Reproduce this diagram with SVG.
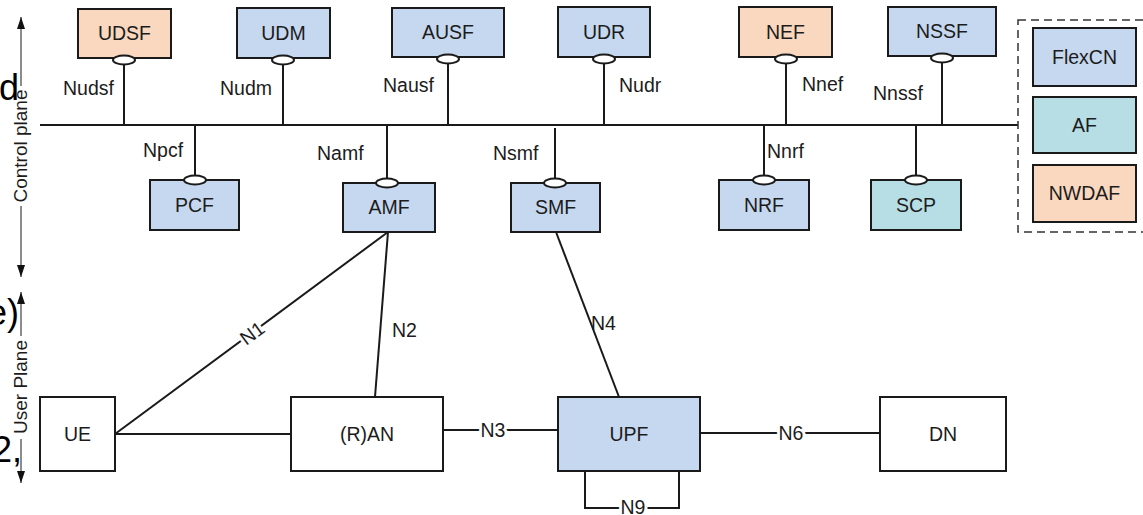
<svg xmlns="http://www.w3.org/2000/svg" width="1143" height="515" viewBox="0 0 1143 515">
<defs>
<marker id="arr" viewBox="0 0 12 8" refX="12" refY="4" markerWidth="12" markerHeight="8" orient="auto-start-reverse" markerUnits="userSpaceOnUse"><path d="M0,0 L12,4 L0,8 z" fill="#111"/></marker>
<style>
text{font-family:"Liberation Sans",Arial,sans-serif;fill:#1c1c1c;font-size:19.5px}
.box{stroke:#1a1a1a;stroke-width:2}
.blue{fill:#c6d8ef}.peach{fill:#f9d8bf}.teal{fill:#b7dee5}.white{fill:#fff}
.c{text-anchor:middle}
.ln{stroke:#1a1a1a;stroke-width:2;fill:none}
.ell{fill:#fff;stroke:#1a1a1a;stroke-width:2}
.bg{stroke:#fff;stroke-width:6;paint-order:stroke;stroke-linejoin:round}
.ax{stroke:#666;stroke-width:1.5;fill:none}
.big{font-size:36px;fill:#000}
.rot{font-size:19px}
</style>
</defs>
<rect width="1143" height="515" fill="#fff"/>

<!-- cut-off fragments at left edge -->
<text class="big" x="-1" y="100">d</text>
<text class="big" x="19" y="325" text-anchor="end">e)</text>
<text class="big" x="22" y="462" text-anchor="end">2,</text>

<!-- plane axes -->
<g id="axes">
<line class="ax" x1="21" y1="86" x2="21" y2="17" marker-end="url(#arr)"/>
<line class="ax" x1="21" y1="206" x2="21" y2="277" marker-end="url(#arr)"/>
<text class="rot c" transform="translate(27,146) rotate(-90)">Control plane</text>
<line class="ax" x1="21" y1="336" x2="21" y2="292" marker-end="url(#arr)"/>
<line class="ax" x1="21" y1="439" x2="21" y2="483" marker-end="url(#arr)"/>
<text class="rot c" transform="translate(27,387) rotate(-90)">User Plane</text>
</g>

<g id="connectors">
<line class="ln" x1="40" y1="125" x2="1018" y2="125"/>
<line class="ln" x1="124" y1="62" x2="124" y2="125"/>
<line class="ln" x1="283" y1="62" x2="283" y2="125"/>
<line class="ln" x1="448" y1="61" x2="448" y2="125"/>
<line class="ln" x1="604" y1="61" x2="604" y2="125"/>
<line class="ln" x1="786" y1="61" x2="786" y2="125"/>
<line class="ln" x1="942" y1="60" x2="942" y2="125"/>
<line class="ln" x1="195" y1="125" x2="195" y2="176"/>
<line class="ln" x1="387" y1="125" x2="387" y2="179"/>
<line class="ln" x1="555" y1="128" x2="555" y2="179"/>
<line class="ln" x1="764" y1="125" x2="764" y2="176"/>
<line class="ln" x1="916" y1="125" x2="916" y2="176"/>
<!-- user plane links -->
<line class="ln" x1="115" y1="434" x2="388" y2="232"/>
<line class="ln" x1="115" y1="434" x2="291" y2="434"/>
<line class="ln" x1="388" y1="232" x2="375" y2="397"/>
<line class="ln" x1="556" y1="232" x2="619" y2="397"/>
<line class="ln" x1="443" y1="430" x2="558" y2="430"/>
<line class="ln" x1="700" y1="433" x2="880" y2="433"/>
<polyline class="ln" points="585,471 585,508 679,508 679,471"/>
<!-- labels -->
<text x="63" y="95">Nudsf</text>
<text x="220" y="95">Nudm</text>
<text x="383" y="92">Nausf</text>
<text x="619" y="92">Nudr</text>
<text x="802" y="91">Nnef</text>
<text x="873" y="100">Nnssf</text>
<text x="143" y="157">Npcf</text>
<text x="317" y="160">Namf</text>
<text x="493" y="160">Nsmf</text>
<text x="767" y="158">Nnrf</text>
<text class="c bg" transform="translate(252,333) rotate(-36.5)" y="7">N1</text>
<text x="392" y="337">N2</text>
<text class="c bg" x="493" y="437">N3</text>
<text x="591" y="330">N4</text>
<text class="c bg" x="791" y="440">N6</text>
<text class="c bg" x="633" y="514">N9</text>
</g>

<g id="UDSF"><rect class="box peach" x="78" y="9" width="93" height="49"/><text class="c" x="124.5" y="40">UDSF</text><ellipse class="ell" cx="124" cy="60" rx="11" ry="4.5"/></g>
<g id="UDM"><rect class="box blue" x="237" y="8" width="93" height="50"/><text class="c" x="283.5" y="40">UDM</text><ellipse class="ell" cx="283" cy="60" rx="11" ry="4.5"/></g>
<g id="AUSF"><rect class="box blue" x="392" y="8" width="112" height="49"/><text class="c" x="448" y="39">AUSF</text><ellipse class="ell" cx="448" cy="59" rx="11" ry="4.5"/></g>
<g id="UDR"><rect class="box blue" x="558" y="7" width="92" height="50"/><text class="c" x="604" y="39">UDR</text><ellipse class="ell" cx="604" cy="59" rx="11" ry="4.5"/></g>
<g id="NEF"><rect class="box peach" x="739" y="7" width="93" height="50"/><text class="c" x="785.5" y="39">NEF</text><ellipse class="ell" cx="786" cy="59" rx="11" ry="4.5"/></g>
<g id="NSSF"><rect class="box blue" x="888" y="7" width="108" height="49"/><text class="c" x="942" y="38">NSSF</text><ellipse class="ell" cx="942" cy="58" rx="11" ry="4.5"/></g>
<g id="PCF"><rect class="box blue" x="150" y="180" width="89" height="50"/><text class="c" x="194.5" y="212">PCF</text><ellipse class="ell" cx="195" cy="180" rx="11" ry="4.5"/></g>
<g id="AMF"><rect class="box blue" x="343" y="183" width="92" height="49"/><text class="c" x="389" y="214">AMF</text><ellipse class="ell" cx="387" cy="183" rx="11" ry="4.5"/></g>
<g id="SMF"><rect class="box blue" x="511" y="183" width="89" height="49"/><text class="c" x="555.5" y="214">SMF</text><ellipse class="ell" cx="555" cy="183" rx="11" ry="4.5"/></g>
<g id="NRF"><rect class="box blue" x="719" y="180" width="90" height="50"/><text class="c" x="764" y="212">NRF</text><ellipse class="ell" cx="764" cy="180" rx="11" ry="4.5"/></g>
<g id="SCP"><rect class="box teal" x="871" y="180" width="90" height="50"/><text class="c" x="916" y="212">SCP</text><ellipse class="ell" cx="916" cy="180" rx="11" ry="4.5"/></g>
<g id="UE"><rect class="box white" x="40" y="397" width="75" height="74"/><text class="c" x="77.5" y="441">UE</text></g>
<g id="RAN"><rect class="box white" x="291" y="397" width="152" height="74"/><text class="c" x="367" y="441">(R)AN</text></g>
<g id="UPF"><rect class="box blue" x="558" y="397" width="142" height="74"/><text class="c" x="629" y="441">UPF</text></g>
<g id="DN"><rect class="box white" x="880" y="397" width="126" height="74"/><text class="c" x="943" y="441">DN</text></g>

<g id="legend">
<rect x="1018" y="20" width="135" height="212" fill="none" stroke="#333" stroke-width="1.5" stroke-dasharray="8,5"/>
<g id="leg-FlexCN"><rect class="box blue" x="1033" y="28" width="103" height="58"/><text class="c" x="1084.5" y="64">FlexCN</text></g>
<g id="leg-AF"><rect class="box teal" x="1033" y="97" width="103" height="56"/><text class="c" x="1084.5" y="132">AF</text></g>
<g id="leg-NWDAF"><rect class="box peach" x="1033" y="165" width="103" height="57"/><text class="c" x="1084.5" y="200">NWDAF</text></g>
</g>
</svg>
